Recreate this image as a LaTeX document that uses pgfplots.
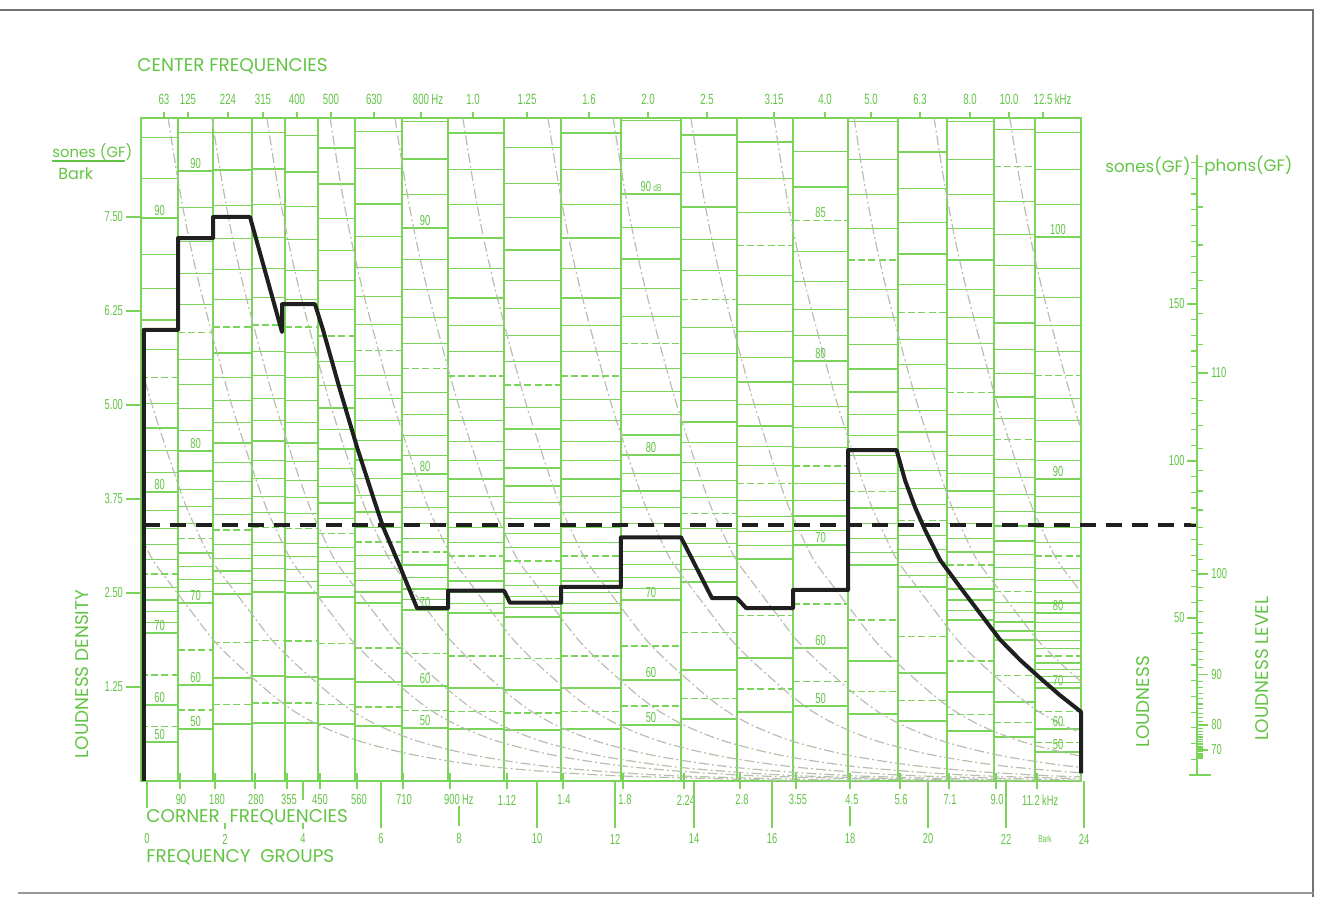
\documentclass[border=0pt]{standalone}
\usepackage{pgfplots}
\pgfplotsset{compat=1.18}
\usepackage{pgfplotstable}
\usepackage{fontspec}
\setmainfont{Poppins}
\newfontfamily\numfont[FakeStretch=0.65]{Liberation Sans}
\definecolor{gg}{RGB}{122,212,90}
\definecolor{tg}{RGB}{98,196,68}
\definecolor{gc}{RGB}{182,192,172}

\tikzset{
  gone/.style={gg, line width=0.55pt},
  gfive/.style={gg, line width=0.7pt, dash pattern=on 3.5pt off 1.6pt},
  gten/.style={gg, line width=1pt},
  gcol/.style={gg, line width=1.1pt},
  glab/.style={text=tg, font=\numfont\fontsize{7.2}{8}\selectfont, anchor=south, inner sep=1pt},
  num/.style={text=tg, font=\numfont\fontsize{7.2}{8}\selectfont, inner sep=0pt},
  lab/.style={text=tg, font=\fontsize{9.2}{10}\selectfont, inner sep=0pt},
}

% horizontal rulings of one frequency-group column: 1 dB steps above 70, 5 dB below
\newcommand\gridcol[4]{%
  \foreach \L in {50,55,60,65,70,71,...,108}{%
    \pgfmathsetmacro\yv{#3*(#4)^((\L-70)/10)}%
    \pgfmathtruncatemacro\mten{mod(\L,10)}%
    \pgfmathtruncatemacro\mfive{mod(\L,5)}%
    \ifdim\yv pt<8.8pt
      \ifnum\mten=0 \def\st{gten}\else\ifnum\mfive=0 \def\st{gfive}\else\def\st{gone}\fi\fi
      \edef\tmp{\noexpand\draw[\st] (axis cs:#1,\yv) -- (axis cs:#2,\yv);}\tmp
    \fi}%
}
\newcommand\collabels[5]{%
  \pgfmathsetmacro\xc{(#1+#2)/2}%
  \foreach \L in {#5}{%
    \pgfmathsetmacro\yv{#3*(#4)^((\L-70)/10)}%
    \edef\tmp{\noexpand\node[glab] at (axis cs:\xc,\yv) {\L};}\tmp}%
}

\pgfplotstableread{
x y
-0.08 0
-0.08 6.00
0.794 6.00
0.794 7.22
1.691 7.22
1.691 7.50
2.638 7.50
3.458 5.97
3.458 6.34
4.303 6.34
4.508 6.00
4.944 5.20
5.379 4.44
5.789 3.78
6.045 3.38
6.480 2.85
6.916 2.30
7.710 2.30
7.710 2.53
9.145 2.53
9.298 2.37
10.605 2.37
10.605 2.58
12.140 2.58
12.140 3.24
13.678 3.24
14.473 2.43
15.113 2.43
15.344 2.30
16.547 2.30
16.547 2.54
17.956 2.54
17.956 4.40
19.200 4.40
19.416 4.00
19.672 3.64
19.928 3.34
20.312 2.94
20.825 2.58
21.337 2.23
21.849 1.88
22.362 1.61
22.874 1.37
23.386 1.14
23.924 0.92
23.924 0.10
}\loudness

\pgfplotstableread{
x y
-0.08 3.40
26.9 3.40
}\total

\pgfplotstableread{
x y
0 8.82
0.25 8.0
0.5 7.3
0.8 6.6
1.2 5.8
1.6 5.05
2.0 4.4
2.26 4.0
2.51 3.64
2.77 3.34
3.15 2.94
3.66 2.58
4.17 2.23
4.69 1.88
5.2 1.61
5.71 1.37
6.22 1.14
6.79 0.92
7.5 0.72
8.5 0.52
10 0.33
12 0.18
15 0.07
20 0.0
}\slope

\begin{document}
\begin{tikzpicture}
\useasboundingbox (0,0) rectangle (659.5pt,448.5pt);

\begin{axis}[
  at={(70.5pt,58pt)}, anchor=south west,
  scale only axis, width=470pt, height=331.5pt,
  xmin=-0.154, xmax=23.924, ymin=0, ymax=8.816,
  axis line style={gg, line width=1.3pt},
  xtick={0.435,1.050,2.075,2.971,3.842,4.713,5.815,7.018,8.350,9.734,11.322,12.833,14.344,16.061,17.367,18.545,19.800,21.081,22.080,22.951},
  xticklabels={63,125,224,315,400,500,630,800\rlap{\,Hz},1.0,1.25,1.6,2.0,2.5,3.15,4.0,5.0,6.3,8.0,10.0,12.5\rlap{\,kHz}},
  xtick pos=right, xticklabel pos=right,
  ytick={1.25,2.5,3.75,5,6.25,7.5}, ytick pos=left,
  tick align=outside, major tick length=3pt,
  ytick style={/pgfplots/major tick length=7.5pt},
  tick style={gg, line width=0.8pt},
  xticklabel style={font=\numfont\fontsize{7.4}{8}\selectfont, text=tg},
  yticklabel style={font=\numfont\fontsize{7.2}{8}\selectfont, text=tg, xshift=-2.5pt,
    /pgf/number format/fixed, /pgf/number format/fixed zerofill,
    /pgf/number format/precision=2, /pgf/number format/assume math mode=true},
  clip mode=individual,
]
\gridcol{-0.154}{0.794}{1.97}{1.95}
\gridcol{0.794}{1.691}{2.37}{1.85}
\gridcol{1.691}{2.690}{2.48}{1.81}
\gridcol{2.690}{3.535}{2.51}{1.80}
\gridcol{3.535}{4.380}{2.50}{1.80}
\gridcol{4.380}{5.328}{2.45}{1.80}
\gridcol{5.328}{6.532}{2.37}{1.80}
\gridcol{6.532}{7.710}{2.27}{1.80}
\gridcol{7.710}{9.145}{2.23}{1.80}
\gridcol{9.145}{10.605}{2.18}{1.80}
\gridcol{10.605}{12.140}{2.23}{1.80}
\gridcol{12.140}{13.678}{2.41}{1.80}
\gridcol{13.678}{15.113}{2.65}{1.80}
\gridcol{15.113}{16.547}{2.95}{1.80}
\gridcol{16.547}{17.956}{3.14}{1.78}
\gridcol{17.956}{19.237}{2.87}{1.80}
\gridcol{19.237}{20.492}{2.58}{1.80}
\gridcol{20.492}{21.696}{2.14}{1.80}
\gridcol{21.696}{22.746}{1.88}{1.80}
\gridcol{22.746}{23.924}{1.24}{1.80}
\foreach \b in {0.794,1.691,2.690,3.535,4.380,5.328,6.532,7.710,9.145,10.605,12.140,13.678,15.113,16.547,17.956,19.237,20.492,21.696,22.746}{%
  \edef\tmp{\noexpand\draw[gcol] (axis cs:\b,0) -- (axis cs:\b,8.816);}\tmp}
\pgfplotsinvokeforeach{-3.0,-1.5,0.54,1.66,3.07,4.69,6.35,8.09,10.27,11.94,13.93,16.06,18.11,20.16,22.1}{%
  \addplot[gc, line width=0.6pt, dash pattern=on 5pt off 1.5pt on 1pt off 1.5pt, smooth] table[x expr=\thisrow{x}+#1, y=y] {\slope};
}
\collabels{-0.154}{0.794}{1.97}{1.95}{90,80,70,60,50}
\collabels{0.794}{1.691}{2.37}{1.85}{90,80,70,60,50}
\collabels{6.532}{7.710}{2.27}{1.80}{90,80,70,60,50}
\collabels{12.140}{13.678}{2.41}{1.80}{80,70,60,50}
\collabels{16.547}{17.956}{3.14}{1.78}{85,80,70,60,50}
\collabels{22.746}{23.924}{1.24}{1.80}{100,90,80,70,60,50}
\node[glab] at (axis cs:12.909,7.81) {90\,{\fontsize{5}{6}\selectfont dB}};
\end{axis}

\begin{axis}[
  at={(70.5pt,58pt)}, anchor=south west,
  scale only axis, width=470pt, height=331.5pt,
  xmin=-0.154, xmax=23.924, ymin=0, ymax=8.816,
  hide axis, clip=false,
]
\addplot[black!88, line width=2pt, line join=round] table {\loudness};
\addplot[black!88, line width=2pt, dash pattern=on 8pt off 5pt] table {\total};
\end{axis}

\begin{scope}[x=0.5pt, y=-0.5pt, yshift=448.5pt]
% page frame
\draw[black!55, line width=0.8pt] (0,10) -- (1313,10) -- (1313,897);
\draw[black!40, line width=0.6pt] (18,893) -- (1313,893);
% titles
\node[lab, anchor=west] at (137,66) {CENTER FREQUENCIES};
\node[lab, anchor=west, font=\fontsize{7.4}{9}\selectfont] at (52,152) {sones (GF)};
\draw[tg, line width=0.8pt] (52,161) -- (125,161);
\node[lab, anchor=west, font=\fontsize{8}{9}\selectfont] at (58,174) {Bark};
\node[lab, rotate=90] at (82,674) {LOUDNESS DENSITY};
% bottom corner frequency ticks and labels
\foreach \x in {180,215,255,287,320,357,403,450,507,563,623,684,740,796,850,900,949,996,1037}{\draw[gg, line width=0.8pt] (\x,773) -- (\x,789);}
\node[num] at (181,800) {90};
\node[num] at (217,800) {180};
\node[num] at (256,800) {280};
\node[num] at (289,800) {355};
\node[num] at (320,800) {450};
\node[num] at (359,800) {560};
\node[num] at (404,800) {710};
\node[num] at (452,800) {900\rlap{\,Hz}};
\node[num] at (507,800) {1.12};
\node[num] at (564,800) {1.4};
\node[num] at (625,800) {1.8};
\node[num] at (686,800) {2.24};
\node[num] at (742,800) {2.8};
\node[num] at (798,800) {3.55};
\node[num] at (852,800) {4.5};
\node[num] at (901,800) {5.6};
\node[num] at (950,800) {7.1};
\node[num] at (997,800) {9.0};
\node[num] at (1031,800) {11.2\rlap{\,kHz}};
\node[lab, anchor=west] at (146,817) {CORNER\ \ FREQUENCIES};
% Bark ticks and labels
\draw[gg, line width=0.8pt] (147,781) -- (147,808);
\draw[gg, line width=0.8pt] (225,823) -- (225,829);
\draw[gg, line width=0.8pt] (303,781) -- (303,800) (303,823) -- (303,829);
\foreach \x in {381,537,615,694,772,928,1006,1084}{\draw[gg, line width=0.8pt] (\x,781) -- (\x,828);}
\foreach \x in {459,850}{\draw[gg, line width=0.8pt] (\x,806) -- (\x,826);}
\foreach \x/\t in {147/0,225/2,303/4,381/6,459/8,537/10,615/12,694/14,772/16,850/18,928/20,1006/22,1084/24}{\node[num] at (\x,839) {\t};}
\node[num, font=\numfont\fontsize{5}{6}\selectfont] at (1045,839) {Bark};
\node[lab, anchor=west] at (146,857) {FREQUENCY\ \ GROUPS};
% right scale: loudness (sones) and loudness level (phons)
\draw[gg, line width=1.2pt] (1197,155) -- (1197,775);
\draw[gg, line width=1.2pt] (1189,775) -- (1211,775);
\foreach \n in {5,10,...,195}{\draw[gg, line width=0.6pt] (1191,{775-3.14*\n}) -- (1197,{775-3.14*\n});}
\foreach \L in {64,...,116}{\pgfmathsetmacro\yy{775-3.14*2^((\L-40)/10)}\draw[gg, line width=0.6pt] (1197,\yy) -- (1203,\yy);}
\foreach \y in {750,724.8,674.5,574,373}{\draw[gg, line width=0.8pt] (1197,\y) -- (1208,\y);}
\foreach \y/\t in {304/150,461/100,618/50}{\draw[gg, line width=0.8pt] (1187,\y) -- (1197,\y); \node[num, anchor=east] at (1185,\y) {\t};}
\foreach \y/\t in {373/110,574/100,674.5/90,724.8/80,750/70}{\node[num, anchor=west] at (1211,\y) {\t};}
\node[lab, anchor=east, font=\fontsize{8.3}{9}\selectfont] at (1191,166) {sones(GF)};
\node[lab, anchor=west, font=\fontsize{8.3}{9}\selectfont] at (1204,166) {phons(GF)};
\node[lab, rotate=90] at (1143,702) {LOUDNESS};
\node[lab, rotate=90] at (1262,669) {LOUDNESS\ LEVEL};
\end{scope}
\end{tikzpicture}
\end{document}
